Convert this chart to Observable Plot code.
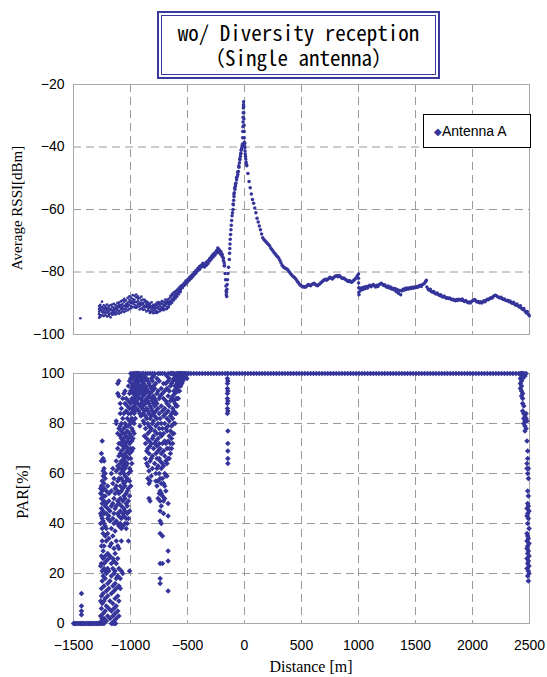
<!DOCTYPE html>
<html>
<head>
<meta charset="utf-8">
<script src="https://cdn.jsdelivr.net/npm/d3@7"></script>
<script src="https://cdn.jsdelivr.net/npm/@observablehq/plot@0.6"></script>
<style>
  html, body { margin: 0; padding: 0; background: #fff; }
  #wrap { position: relative; width: 547px; height: 677px; overflow: hidden; background: #fff; }
  #wrap svg { position: absolute; left: 0; overflow: visible; }
  .lbl { position: absolute; font-family: "Liberation Serif", "Times New Roman", serif; color: #000; white-space: nowrap; }
  #titleOuter { position: absolute; left: 157px; top: 11px; width: 279px; height: 64px; border: 2px solid #3a3a9c; background: #fff; }
  #titleInner { position: absolute; left: 2px; top: 2px; right: 2px; bottom: 2px; border: 1px solid #3a3a9c; }
  #titleText { position: absolute; left: 0; right: 0; top: 4px; text-align: center; white-space: pre;
    font-family: "Noto Sans Mono CJK JP", "Noto Sans CJK JP", sans-serif; font-size: 21px; line-height: 25px; color: #000; }
  #legend { position: absolute; left: 423px; top: 114px; width: 106px; height: 32px; border: 1px solid #000; background: #fff;
    font-family: "Liberation Sans", Arial, sans-serif; font-size: 14px; line-height: 32px; color: #000; }
</style>
</head>
<body>
<div id="wrap"></div>
<script>
// ---------- DATA ----------
const xTicks = [-1500, -1000, -500, 0, 500, 1000, 1500, 2000, 2500];
const rssiTicks = [-100, -80, -60, -40, -20];
const parTicks = [0, 20, 40, 60, 80, 100];
const seriesName = "Antenna A";
const titleLines = ["wo/ Diversity reception", "\uFF08Single antenna\uFF09"];

// Average RSSI [dBm] vs distance [m]
const rssiIsolated = [[-1440, -94.8]];
// rows: [distance, values...]
const rssiCloud = [
  [-1275, -93.5, -91.8, -94.6, -92.7, -90.9], [-1265, -92.2, -90.5, -93.8, -91.4, -94.3],
  [-1250, -92.8, -91.2, -89.5, -93.9, -92], [-1235, -93.2, -91.6, -92.4, -90.7, -94.1],
  [-1220, -92, -93.8, -90.8, -91.5, -92.9], [-1205, -91.5, -93, -92.3, -90.4, -94.2],
  [-1190, -92.6, -90.9, -94, -91.7, -93.4], [-1175, -91.8, -93.3, -92.1, -90.6, -94.5],
  [-1160, -92.9, -91.2, -90.4, -93.7, -92.2], [-1145, -92.2, -93.5, -91.5, -90.2, -92.9],
  [-1130, -91.4, -92.8, -90.6, -93.6, -91.9], [-1115, -92.3, -90.9, -93.2, -91.6, -89.9],
  [-1100, -91.2, -92.5, -89.8, -90.6, -93.3], [-1085, -90.6, -92, -91.4, -89.4, -93],
  [-1070, -91.8, -90.2, -92.6, -89.1, -91.1], [-1055, -90.9, -89.5, -91.9, -88.6, -92.8],
  [-1040, -90.3, -91.6, -89.1, -92.4, -90.9], [-1025, -89.8, -91.1, -90.5, -88.3, -92.2],
  [-1010, -90.6, -88.9, -91.8, -89.7, -87.8], [-995, -89.4, -90.9, -88.2, -91.6, -89.9],
  [-980, -90.1, -88.7, -91.2, -87.4, -89.5], [-965, -88.9, -90.4, -87.6, -91.3, -89.6],
  [-950, -89.6, -88.1, -90.8, -87.2, -91.5], [-935, -88.5, -90.2, -89.3, -91.1, -87.8],
  [-920, -89.8, -88.4, -91, -90.3, -92], [-905, -90.5, -89.1, -87.9, -91.7, -90],
  [-890, -89.9, -91.3, -90.4, -88.8, -92.1], [-875, -90.8, -89.6, -92, -91.2, -88.9],
  [-860, -91.2, -90.1, -89.4, -92.6, -90.7], [-845, -90.6, -91.7, -92.3, -89.8, -91.1],
  [-830, -91.4, -90.2, -92.5, -91, -93.1], [-815, -90.9, -92, -91.3, -89.7, -92.8],
  [-800, -91.6, -90.5, -92.4, -91.1, -93.2], [-785, -91, -92.2, -90.4, -93, -91.6],
  [-770, -90.7, -92.6, -91.5, -89.9, -93.1], [-755, -91.8, -90.3, -92.8, -91.2, -89.6],
  [-740, -90.9, -91.9, -89.8, -92.5, -90.4], [-725, -91.3, -90.1, -92.1, -89.3, -91.7],
  [-710, -90.4, -91.6, -89.5, -92.2, -90.9], [-695, -90.8, -89.7, -91.9, -88.8, -90.3],
  [-680, -90.1, -91.2, -88.9, -89.6, -91.8], [-665, -89.5, -90.7, -88.6, -91.3, -89.9],
  [-650, -89.2, -90.3, -88.1, -89.7, -87.6], [-635, -88.6, -89.8, -87.5, -89.1, -87],
  [-620, -88, -89.1, -87.2, -88.5, -86.5], [-605, -87.4, -88.5, -86.6, -87.9, -86.1],
  [-590, -86.8, -87.9, -86, -87.3, -85.6], [-575, -86.1, -87.1, -85.4, -86.6, -85],
  [-560, -85.5, -86.4, -84.8, -85.9, -84.4]
];
const rssiRise = [
  [-545, -85, -84.2], [-530, -84.3, -83.6], [-515, -83.8, -82.9], [-500, -83.2, -82.5],
  [-485, -82.6, -81.8], [-470, -82.1, -81.3], [-455, -81.5, -80.8], [-440, -80.9, -80.1],
  [-425, -80.3, -79.5], [-410, -79.6, -78.9], [-395, -79.2, -78.2], [-380, -78.5, -77.8],
  [-365, -78.1, -77.2], [-350, -78.4, -77.6], [-335, -77.8, -76.9], [-320, -77.3, -76.4],
  [-305, -76.5, -75.7], [-290, -75.8, -75], [-275, -75.2, -74.3], [-260, -74.6, -73.8],
  [-245, -73.9, -73.1], [-234, -73.2, -72.3], [-225, -73.5, -72.8], [-215, -74, -73.2],
  [-205, -73.6, -74.5], [-195, -74.4, -75.1], [-185, -75.5, -76.3], [-178, -77, -78]
];
const rssiDip = [
  [-175, -78], [-170, -80.5], [-166, -82.5], [-163, -84.5], [-161, -86], [-160, -87.3],
  [-158, -86.5], [-156, -87.8], [-154, -85.5], [-152, -84], [-149, -82.5], [-145, -80.5],
  [-140, -78.5], [-133, -76]
];
const rssiPeakLeft = [
  [-131, -74], [-129, -72.5], [-127, -71], [-125, -69.5], [-122, -68], [-119, -66.5],
  [-116, -65], [-113, -63.5], [-109, -62], [-105, -61], [-101, -60], [-98, -58.5],
  [-95, -57], [-92, -55.8], [-89, -54.6], [-84, -53.5], [-79, -52.5], [-74, -51.5],
  [-69, -50.5], [-64, -49.5], [-59, -48.8], [-54, -47.8], [-49, -46.5], [-44, -45],
  [-40, -44], [-36, -43], [-32, -42], [-29, -41], [-25, -40.3], [-21, -39.6], [-18, -39],
  [-100, -58.2], [-93, -55], [-86, -53], [-80, -51.8], [-70, -49.8], [-60, -48],
  [-50, -46], [-42, -43.8], [-34, -42.2], [-27, -40.8]
];
const rssiSpike = [
  [-16, -37], [-15, -35], [-14, -33.5], [-13, -32], [-12, -30.5], [-11, -29], [-10, -27.5],
  [-9, -26.5], [-8, -25.5], [-7, -27], [-6, -29], [-5, -31], [-4, -33], [-3, -35], [-2, -37],
  [-1, -38.5], [0, -39.5], [1, -38.8], [3, -40.2], [5, -41.3], [7, -42.2], [9, -43],
  [11, -43.8], [14, -44.8], [17, -45.5]
];
const rssiRight = [
  [20,-46],[30,-48.5],[40,-51],[50,-53],[60,-55],[70,-56.8],[80,-58],[90,-59.5],[100,-61],
  [110,-62.8],[120,-64],[130,-65.3],[140,-66.5],[150,-67.8],[160,-69],[170,-69.6],[180,-70],
  [190,-70.4],[200,-70.8],[210,-71.2],[220,-71.6],[230,-72.3],[240,-72.8],[250,-73.3],
  [260,-73.8],[270,-74.2],[280,-74.7],[290,-75.1],[300,-75.5],[310,-76.2],[320,-77],
  [330,-77.8],[340,-78.3],[350,-78.6],[360,-78.8],[370,-79],[380,-79.3],[390,-79.8],
  [400,-80.3],[410,-80.8],[420,-81.2],[430,-81.5],[440,-81.8],[450,-82.2],[460,-82.8],
  [470,-83.3],[480,-83.8],[490,-84.2],[500,-84.5],[510,-84.8],[520,-84.6],[530,-84.9],
  [540,-84.7],[550,-84.3],[560,-84],[570,-84.2],[580,-84.4],[590,-84],[600,-83.8],
  [610,-83.6],[620,-83.9],[630,-84.2],[640,-84.4],[650,-84.1],[660,-83.8],[670,-83.4],
  [680,-83.1],[690,-82.8],[700,-82.5],[710,-82.3],[720,-82.6],[730,-82.3],[740,-82],
  [750,-81.7],[760,-81.9],[770,-82.2],[780,-81.8],[790,-81.5],[800,-81.3],[810,-81.2],
  [820,-81.5],[830,-81.1],[840,-81.4],[850,-81.8],[860,-82.1],[870,-81.9],[880,-82.2],
  [890,-82.5],[900,-82.8],[910,-83],[920,-82.7],[930,-83.1],[940,-83.3],[950,-82.9],
  [960,-82.6],[970,-82.2],[980,-81.8],[990,-81.2],[1000,-80.6],[1000,-82],[1001,-83.5],
  [1002,-85],[1003,-86.5],[1004,-87.3],[1010,-85.2],[1020,-85.8],[1030,-85],[1040,-85.6],
  [1050,-84.8],[1060,-85.3],[1070,-84.6],[1080,-85.1],[1090,-84.5],[1100,-84.2],
  [1110,-84.7],[1120,-84.3],[1130,-84],[1140,-84.4],[1150,-84.8],[1160,-84.2],[1170,-84.6],
  [1180,-84.1],[1190,-83.8],[1200,-83.6],[1210,-83.9],[1220,-84.3],[1230,-84.1],
  [1240,-84.6],[1250,-84.9],[1260,-84.5],[1270,-85.1],[1280,-84.8],[1290,-85.4],
  [1300,-85.2],[1310,-85.7],[1320,-85.3],[1330,-86.2],[1340,-85.6],[1350,-86.8],
  [1360,-85.9],[1370,-87.3],[1380,-86.1],[1390,-85.5],[1400,-85.8],[1410,-85.2],
  [1420,-85.6],[1430,-85.1],[1440,-85.4],[1450,-85],[1460,-85.3],[1470,-84.9],[1480,-85.2],
  [1490,-84.8],[1500,-85],[1510,-84.6],[1520,-84.9],[1530,-84.5],[1540,-84.2],[1550,-84.6],
  [1560,-84.1],[1570,-83.8],[1580,-83.5],[1590,-83],[1595,-82.6],[1600,-84.8],[1610,-85.4],
  [1620,-85.8],[1630,-85.5],[1640,-86.2],[1650,-86.5],[1660,-86.2],[1670,-86.8],[1680,-87],
  [1690,-86.7],[1700,-87.2],[1710,-87.5],[1720,-87.3],[1730,-87.8],[1740,-88],[1750,-87.7],
  [1760,-88.1],[1770,-88.4],[1780,-88.2],[1790,-88.5],[1800,-88.3],[1810,-88.6],
  [1820,-88.9],[1830,-88.7],[1840,-89],[1850,-89.2],[1860,-88.8],[1870,-89.1],[1880,-88.7],
  [1890,-88.9],[1900,-89],[1910,-88.6],[1920,-89.2],[1930,-89.4],[1940,-89.1],[1950,-89.5],
  [1960,-89.8],[1970,-89.6],[1980,-89.9],[1990,-89.5],[2000,-89.2],[2010,-89],[2020,-88.8],
  [2030,-89.3],[2040,-89.6],[2050,-89.4],[2060,-89.8],[2070,-89.5],[2080,-89.9],
  [2090,-89.6],[2100,-89.2],[2110,-89.5],[2120,-89],[2130,-88.7],[2140,-88.9],[2150,-88.5],
  [2160,-88.2],[2170,-88.4],[2180,-87.9],[2190,-87.6],[2200,-87.4],[2210,-87.6],
  [2220,-87.9],[2230,-88.1],[2240,-88.3],[2250,-88.1],[2260,-88.5],[2270,-88.8],
  [2280,-88.6],[2290,-89],[2300,-89.2],[2310,-89],[2320,-89.5],[2330,-89.3],[2340,-89.8],
  [2350,-90],[2360,-89.7],[2370,-90.3],[2380,-90.6],[2390,-90.2],[2400,-90.9],[2410,-91.2],
  [2420,-90.8],[2430,-91.6],[2440,-92],[2450,-91.7],[2460,-92.5],[2470,-93],[2480,-92.6],
  [2490,-93.5],[2498,-94]
];

// PAR [%] vs distance [m]
const parZeroDistance = [-1500,-1490,-1480,-1470,-1460,-1450,-1440,-1430,-1420,-1410,-1400,
  -1390,-1380,-1370,-1360,-1350,-1340,-1330,-1320,-1310,-1300,-1290,-1280,-1270,
  -1258,-1245,-1232,-1168,-1155,-1140,-1130];
const parFullDistance = [-470,-445,-420,-395,-370,-345,-320,-295,-270,-245,-220,-195,-170,
  -120,-95,-70,-45,-20,5,30,55,80,105,130,155,180,205,230,255,280,305,330,355,380,405,430,
  455,480,505,530,555,580,605,630,655,680,705,730,755,780,805,830,855,880,905,930,955,980,
  1005,1030,1055,1080,1105,1130,1155,1180,1205,1230,1255,1280,1305,1330,1355,1380,1405,
  1430,1455,1480,1505,1530,1555,1580,1605,1630,1655,1680,1705,1730,1755,1780,1805,1830,
  1855,1880,1905,1930,1955,1980,2005,2030,2055,2080,2105,2130,2155,2180,2205,2230,2255,
  2280,2305,2330,2355,2380,2405];
// rows: [distance, values...]
const parColumns = [
  [-1430, 12, 7, 5, 3.5],
  [-1262, 3, 9, 23, 40, 44, 54, 52],
  [-1255, 1, 6, 11, 14, 24, 27, 31, 43, 46, 50, 55, 65, 68],
  [-1248, 2, 8, 17, 21, 33, 38, 42, 48, 53, 57, 73],
  [-1240, 4, 12, 19, 26, 29, 36, 41, 45, 51, 59, 61, 66],
  [-1232, 2, 9, 15, 22, 24, 31, 40, 44, 49, 54, 56, 62, 65],
  [-1222, 5, 10, 18, 21, 27, 35, 39, 47, 51, 58, 60],
  [-1212, 1, 7, 13, 20, 25, 33, 38, 44, 48, 53],
  [-1200, 3, 11, 16, 22, 28, 36, 42, 46, 55],
  [-1190, 6, 14, 21, 26, 34, 43, 49, 52],
  [-1180, 2, 9, 17, 27, 31, 41, 45],
  [-1168, 5, 12, 19, 24, 32, 38, 47, 53, 60],
  [-1155, 3, 8, 15, 22, 26, 35, 42, 48, 56, 62],
  [-1145, 1, 6, 13, 20, 25, 30, 40, 44, 50, 58],
  [-1135, 4, 10, 16, 21, 28, 37, 46, 52, 54],
  [-1125, 2, 7, 14, 18, 24, 33, 41, 47, 55, 61, 65, 80, 81],
  [-1112, 5, 11, 19, 26, 31, 40, 44, 49, 53, 57, 63, 70, 76, 92, 96],
  [-1102, 3, 9, 15, 22, 30, 39, 43, 48, 52, 58, 62, 67, 72, 78, 91, 97],
  [-1090, 14, 18, 40, 45, 50, 55, 60, 64, 68, 72, 75, 79, 84, 88],
  [-1080, 21, 33, 38, 42, 47, 53, 58, 62, 65, 69, 74, 77, 80, 86],
  [-1068, 20, 39, 44, 49, 54, 57, 61, 63, 67, 71, 73, 76, 82, 90],
  [-1058, 43, 46, 51, 56, 60, 62, 64, 66, 70, 74, 78, 84, 92],
  [-1048, 40, 45, 50, 55, 59, 62, 65, 68, 72, 76, 80, 88, 93],
  [-1038, 38, 42, 48, 52, 57, 63, 67, 71, 75, 79, 85, 90],
  [-1028, 40, 44, 47, 53, 58, 64, 69, 73, 77, 82, 87],
  [-1018, 33, 42, 49, 54, 60, 66, 70, 74, 79, 84, 89, 95],
  [-1008, 21, 45, 51, 57, 62, 68, 72, 76, 81, 86, 92, 97],
  [-998, 55, 61, 66, 70, 75, 80, 84, 88, 93, 98, 100],
  [-988, 64, 69, 73, 78, 82, 86, 90, 94, 96, 99],
  [-978, 70, 74, 77, 81, 85, 89, 92, 95, 98, 100],
  [-968, 76, 80, 84, 87, 90, 93, 96, 99, 100],
  [-958, 82, 85, 88, 91, 94, 97, 100],
  [-948, 86, 89, 92, 95, 98, 100, 96],
  [-938, 88, 91, 93, 96, 99, 100],
  [-928, 85, 90, 94, 97, 100, 98],
  [-918, 79, 84, 87, 92, 95, 98, 100],
  [-908, 83, 88, 90, 93, 97, 99],
  [-898, 86, 89, 92, 95, 98, 100],
  [-888, 81, 84, 87, 91, 94, 96, 100],
  [-878, 75, 80, 85, 89, 93, 97, 99],
  [-868, 66, 72, 78, 83, 88, 92, 95, 100],
  [-858, 64, 69, 74, 82, 86, 90, 94, 98],
  [-848, 58, 63, 70, 76, 80, 85, 89, 93, 97, 100],
  [-838, 50, 56, 61, 68, 73, 79, 84, 88, 91, 96],
  [-828, 49, 57, 65, 71, 77, 82, 87, 92, 95, 100],
  [-818, 59, 66, 72, 78, 83, 86, 90, 94, 98],
  [-808, 62, 67, 74, 80, 85, 89, 93, 97, 100],
  [-798, 70, 75, 81, 84, 88, 91, 95, 99],
  [-788, 64, 72, 77, 83, 87, 90, 94, 100],
  [-778, 57, 60, 68, 73, 79, 85, 89, 96],
  [-768, 55, 62, 66, 71, 76, 82, 88, 92, 98],
  [-758, 50, 57, 63, 69, 74, 80, 86, 93, 100],
  [-748, 52, 60, 66, 72, 78, 84, 90, 97],
  [-740, 16, 18, 24, 36, 41, 45, 49, 53, 58, 65, 70, 76, 82, 91, 100],
  [-730, 40, 47, 52, 56, 62, 68, 75, 80, 87, 94],
  [-720, 24, 35, 51, 58, 64, 72, 78, 85, 92, 100],
  [-710, 44, 49, 56, 63, 69, 76, 83, 90, 96],
  [-700, 50, 55, 60, 67, 73, 80, 86, 93, 100],
  [-690, 53, 59, 65, 72, 78, 84, 89, 96],
  [-680, 59, 64, 70, 77, 82, 88, 94, 99],
  [-670, 13, 25, 29, 43, 48, 66, 73, 79, 85, 91, 97, 100],
  [-660, 66, 70, 75, 81, 87, 93, 98],
  [-650, 68, 72, 77, 83, 89, 95, 100],
  [-640, 70, 74, 79, 84, 90, 96, 100],
  [-630, 72, 76, 82, 86, 91, 97, 100],
  [-620, 76, 80, 85, 89, 93, 98, 100],
  [-610, 80, 84, 88, 92, 95, 99],
  [-600, 84, 87, 90, 94, 97, 100],
  [-590, 87, 90, 93, 96, 98, 100],
  [-580, 90, 93, 95, 97, 99, 100],
  [-570, 93, 95, 97, 99, 100],
  [-560, 95, 97, 98, 100],
  [-550, 96, 98, 100],
  [-540, 97, 99, 100],
  [-530, 98, 100],
  [-520, 99, 100],
  [-505, 98, 100],
  [-490, 100],
  [-150, 100, 98, 96, 94, 92, 90, 88, 86, 84],
  [-146, 100, 97, 93, 89, 85, 77, 72, 69, 66, 64],
  [2420, 100, 98, 96, 94],
  [2430, 100, 99, 97, 95, 93, 91],
  [2440, 100, 98, 92, 90, 88, 85],
  [2450, 100, 99, 87, 84, 82, 80],
  [2460, 99, 83, 81, 79, 77],
  [2470, 100, 84, 82, 78],
  [2478, 81, 73, 64, 62, 46, 43, 36, 33, 30, 26, 22],
  [2484, 69, 66, 60, 53, 48, 44, 40, 35, 31, 28, 24, 19],
  [2490, 62, 58, 51, 47, 42, 34, 29, 25, 21, 17],
  [2496, 45, 38, 32, 27, 23, 20]
];

// ---------- BUILD TABLES ----------
const rowsToPoints = rows => rows.flatMap(([d, ...vs]) => vs.map(v => ({d, v})));
const pairs = arr => arr.map(([d, v]) => ({d, v}));
const rssiScatter = [...pairs(rssiIsolated), ...rowsToPoints(rssiCloud)];
const rssiTrace = [
  ...rowsToPoints(rssiRise), ...pairs(rssiDip), ...pairs(rssiPeakLeft),
  ...pairs(rssiSpike), ...pairs(rssiRight)
];
const parData = [
  ...parZeroDistance.map(d => ({d, v: 0})),
  ...parFullDistance.map(d => ({d, v: 100})),
  ...rowsToPoints(parColumns)
];

const color = "#34349a";
const gridStyle = {stroke: "#9a9a9a", strokeOpacity: 1, strokeDasharray: "8,5", strokeWidth: 1};
const fmt = d => (d < 0 ? "\u2212" + Math.abs(d) : String(d));
const baseStyle = {fontFamily: "'Liberation Sans', Arial, sans-serif", fontSize: "14px", color: "#000", background: "transparent", overflow: "visible"};

const wrap = document.getElementById("wrap");

// Top chart: RSSI
const rssiChart = Plot.plot({
  width: 547, height: 350,
  marginLeft: 73, marginRight: 18, marginTop: 84, marginBottom: 16,
  x: {domain: [-1500, 2500], axis: null},
  y: {domain: [-100, -20]},
  style: baseStyle,
  marks: [
    Plot.gridX(xTicks.slice(1, -1), gridStyle),
    Plot.gridY(rssiTicks.slice(1, -1), gridStyle),
    Plot.frame({stroke: "#a8a8a8"}),
    Plot.axisY(rssiTicks, {tickSize: 0, tickPadding: 9, tickFormat: fmt, label: null, fontSize: 14}),
    Plot.dot(rssiScatter, {x: "d", y: "v", r: 1.35, fill: color, stroke: null}),
    Plot.dot(rssiTrace, {x: "d", y: "v", r: 1.75, fill: color, stroke: null})
  ]
});
rssiChart.style.top = "0px";
wrap.appendChild(rssiChart);

// Bottom chart: PAR
const parChart = Plot.plot({
  width: 547, height: 327,
  marginLeft: 73, marginRight: 18, marginTop: 23, marginBottom: 54,
  x: {domain: [-1500, 2500]},
  y: {domain: [0, 100]},
  style: baseStyle,
  marks: [
    Plot.gridX(xTicks.slice(1, -1), gridStyle),
    Plot.gridY(parTicks.slice(1, -1), gridStyle),
    Plot.frame({stroke: "#a8a8a8"}),
    Plot.axisY(parTicks, {tickSize: 0, tickPadding: 9, tickFormat: fmt, label: null, fontSize: 14}),
    Plot.axisX(xTicks, {tickSize: 0, tickPadding: 17, tickFormat: fmt, label: null, fontSize: 14}),
    Plot.dot(parData, {x: "d", y: "v", r: 2.5, symbol: "diamond2", fill: color, stroke: null})
  ]
});
parChart.style.top = "350px";
wrap.appendChild(parChart);

// Title box (one text node, two lines)
const tOuter = document.createElement("div");
tOuter.id = "titleOuter";
const tInner = document.createElement("div");
tInner.id = "titleInner";
const tText = document.createElement("div");
tText.id = "titleText";
tText.textContent = titleLines.join("\n");
tInner.appendChild(tText);
tOuter.appendChild(tInner);
wrap.appendChild(tOuter);

// Legend
const leg = document.createElement("div");
leg.id = "legend";
leg.innerHTML = '<span style="color:' + color + ';font-size:10px;margin-left:10px;position:relative;top:-1px">\u25C6</span>' + seriesName;
wrap.appendChild(leg);

// Axis titles
function addLabel(text, cx, cy, size, rotate) {
  const el = document.createElement("div");
  el.className = "lbl";
  el.textContent = text;
  el.style.fontSize = size + "px";
  el.style.left = cx + "px";
  el.style.top = cy + "px";
  el.style.transform = "translate(-50%,-50%)" + (rotate ? " rotate(-90deg)" : "");
  wrap.appendChild(el);
}
addLabel("Average RSSI[dBm]", 17, 208, 15, true);
addLabel("PAR[%]", 23, 492, 16, true);
addLabel("Distance [m]", 311, 667, 16, false);
</script>
</body>
</html>
